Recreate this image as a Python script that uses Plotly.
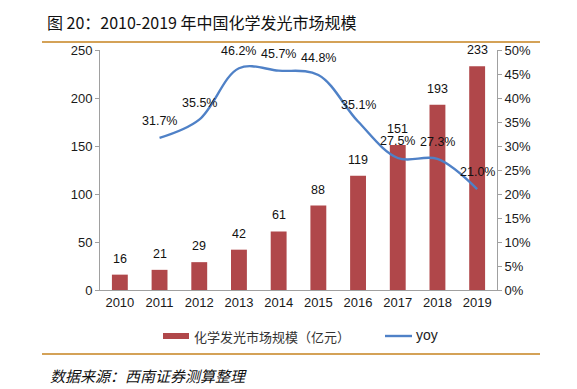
import plotly.graph_objects as go

years = ["2010", "2011", "2012", "2013", "2014", "2015", "2016", "2017", "2018", "2019"]
market = [16, 21, 29, 42, 61, 88, 119, 151, 193, 233]
yoy_years = ["2011", "2012", "2013", "2014", "2015", "2016", "2017", "2018", "2019"]
yoy = [0.317, 0.355, 0.462, 0.457, 0.448, 0.351, 0.275, 0.273, 0.210]
yoy_labels = ["31.7%", "35.5%", "46.2%", "45.7%", "44.8%", "35.1%", "27.5%", "27.3%", "21.0%"]
bar_name = "化学发光市场规模（亿元）"
line_name = "yoy"

bar_color = "#B0474A"
line_color = "#4F81C7"
tick_font = dict(family="Liberation Sans, Arial", size=13, color="#1a1a1a")
label_font = dict(family="Liberation Sans, Arial", size=12.5, color="#111111")
cjk = "Noto Sans CJK SC"

# page body has an 8px margin, so the figure is drawn 8px smaller and coordinates shifted
OFF = 8
W, H = 577 - OFF, 389 - OFF
PL, PR, PT, PB = 100 - OFF, 497 - OFF, 50 - OFF, 290 - OFF
PW, PH = PR - PL, PB - PT


def px(x):
    return (x - OFF - PL) / PW


def py(y):
    return (PB - (y - OFF)) / PH


fig = go.Figure()
fig.add_trace(go.Bar(
    x=years, y=market, name=bar_name,
    marker=dict(color=bar_color, line=dict(width=0)),
    width=0.4, showlegend=False,
))
fig.add_trace(go.Scatter(
    x=yoy_years, y=yoy, name=line_name, yaxis="y2",
    mode="lines", line=dict(color=line_color, width=2.4, shape="spline", smoothing=1.0),
    showlegend=False,
))

for xv, v in zip(years, market):
    fig.add_annotation(x=years.index(xv), y=v, xref="x", yref="y", text=str(v), showarrow=False,
                       yanchor="bottom", yshift=7, font=label_font)
for xv, v, t in zip(yoy_years, yoy, yoy_labels):
    fig.add_annotation(x=years.index(xv), y=v, xref="x", yref="y2", text=t, showarrow=False,
                       yanchor="bottom", yshift=8, font=label_font)

fig.update_layout(
    width=W, height=H,
    margin=dict(l=PL, r=W - PR, t=PT, b=H - PB),
    paper_bgcolor="white", plot_bgcolor="white",
    showlegend=False,
    xaxis=dict(type="category", categoryorder="array", categoryarray=years,
               range=[-0.5, len(years) - 0.5],
               showline=True, linecolor="#A0A0A0", linewidth=1,
               ticks="", tickfont=tick_font, showgrid=False, zeroline=False),
    yaxis=dict(range=[0, 250], dtick=50, showline=True, linecolor="#A0A0A0", linewidth=1,
               ticks="outside", ticklen=4, tickcolor="#A0A0A0", tickfont=tick_font,
               showgrid=False, zeroline=False),
    yaxis2=dict(range=[0, 0.5], dtick=0.05, tickformat=".0%", overlaying="y", side="right",
                showline=True, linecolor="#A0A0A0", linewidth=1,
                ticks="outside", ticklen=4, tickcolor="#A0A0A0", tickfont=tick_font,
                showgrid=False, zeroline=False),
    bargap=0.6,
)

# custom legend
fig.add_shape(type="rect", xref="paper", yref="paper",
              x0=px(163), x1=px(189), y0=py(339), y1=py(333),
              fillcolor=bar_color, line=dict(width=0))
fig.add_annotation(text=bar_name, xref="paper", yref="paper", x=px(192), y=py(336),
                   xanchor="left", yanchor="middle", showarrow=False,
                   font=dict(family=cjk, size=13, color="#333333"))
fig.add_shape(type="line", xref="paper", yref="paper",
              x0=px(385), x1=px(412), y0=py(336), y1=py(336),
              line=dict(color=line_color, width=2.4))
fig.add_annotation(text=line_name, xref="paper", yref="paper", x=px(414), y=py(335),
                   xanchor="left", yanchor="middle", showarrow=False,
                   font=dict(family="Liberation Sans, Arial", size=14, color="#222222"))

fig.add_annotation(text="图 20：2010-2019 年中国化学发光市场规模", xref="paper", yref="paper",
                   x=px(45), y=py(22), xanchor="left", yanchor="middle",
                   showarrow=False, font=dict(family=cjk, size=16, color="#111111", weight="normal"))
fig.add_annotation(text="数据来源：西南证券测算整理", xref="paper", yref="paper",
                   x=px(48), y=py(375), xanchor="left", yanchor="middle",
                   showarrow=False, font=dict(family=cjk, size=15, color="#111111", style="italic"))
for yy in (42, 354):
    fig.add_shape(type="line", xref="paper", yref="paper",
                  x0=px(42), x1=px(540), y0=py(yy), y1=py(yy),
                  line=dict(color="#D4A257", width=2))

fig.write_html("out.html")
